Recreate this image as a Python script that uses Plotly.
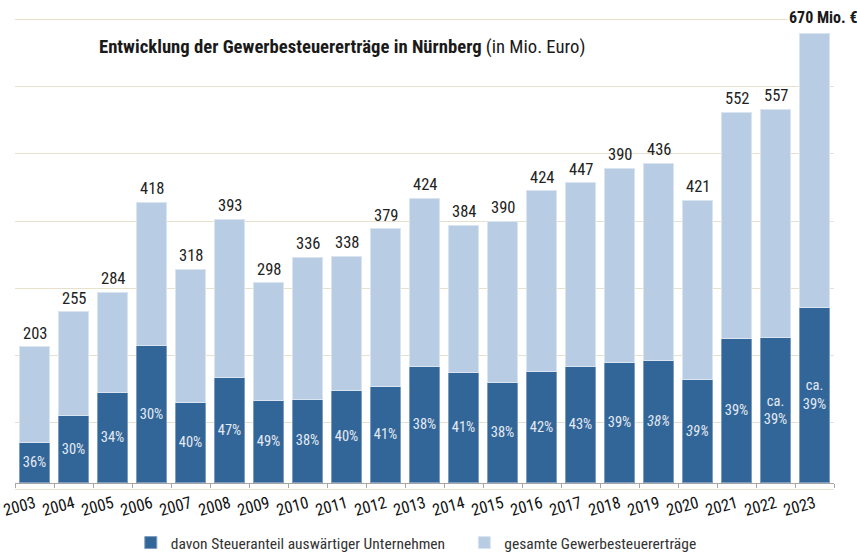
import plotly.graph_objects as go

years = [str(y) for y in range(2003, 2024)]
# bar heights (Mio. Euro)
totals = [203, 255, 284, 418, 318, 393, 298, 336, 338, 379, 424, 384, 390, 435, 447, 469, 476, 421, 552, 557, 670]
dark = [60, 101, 134, 205, 120, 157, 123, 125, 138, 143, 174, 164, 149, 166, 173, 180, 182, 154, 215, 216, 261]
value_labels = ["203", "255", "284", "418", "318", "393", "298", "336", "338", "379", "424",
                "384", "390", "424", "447", "390", "436", "421", "552", "557", "670 Mio. €"]
pct_labels = ["36%", "30%", "34%", "30%", "40%", "47%", "49%", "38%", "40%", "41%", "38%",
              "41%", "38%", "42%", "43%", "39%", "<i>38%</i>", "<i>39%</i>", "39%", "ca.<br>39%", "ca.<br>39%"]
series_names = ["davon Steueranteil auswärtiger Unternehmen", "gesamte Gewerbesteuererträge"]
light = [t - d for t, d in zip(totals, dark)]

FONT = "Liberation Sans Narrow, Arial Narrow, Roboto Condensed, Liberation Sans, sans-serif"
DARK = "#336698"
LIGHT = "#b8cce4"

ymin, ymax = -12, 700
mt, mb = 13, 63
plot_h = 554 - mt - mb

fig = go.Figure()
fig.add_trace(go.Bar(
    x=years, y=dark, name=series_names[0] + "&nbsp;&nbsp;&nbsp;&nbsp;",
    marker=dict(color=DARK, line=dict(color="#7d9dc0", width=1)),
    text=pct_labels, textposition="inside", insidetextanchor="middle",
    textangle=0, constraintext="none",
    textfont=dict(family=FONT, size=14.5, color="#e4ebf4"),
    hoverinfo="skip",
))
fig.add_trace(go.Bar(
    x=years, y=light, name=series_names[1],
    marker=dict(color=LIGHT, line=dict(color="#dbe5f1", width=1)),
    hoverinfo="skip",
))

last = len(years) - 1
for i, (tot, lab) in enumerate(zip(totals, value_labels)):
    if i == last:
        fig.add_annotation(x=i, xanchor="center", xshift=9,
                           y=(554 - mb - 17) / plot_h, yref="paper", yanchor="middle",
                           text="<b>" + lab + "</b>",
                           showarrow=False, bgcolor="white",
                           font=dict(family=FONT, size=16, color="#1a1a1a"))
    else:
        fig.add_annotation(x=i, y=tot, yanchor="bottom", yshift=2, text=lab,
                           showarrow=False,
                           font=dict(family=FONT, size=16.5, color="#222222"))

fig.add_annotation(x=(97 - 15) / 819, xref="paper", xanchor="left",
                   y=(554 - mb - 47) / plot_h, yref="paper", yanchor="middle",
                   text="<b>Entwicklung der Gewerbesteuererträge in Nürnberg</b> (in Mio. Euro)",
                   showarrow=False, font=dict(family=FONT, size=18.7, color="#1a1a1a"))

fig.update_layout(
    barmode="stack", bargap=0.21,
    width=857, height=554,
    margin=dict(l=15, r=23, t=mt, b=mb, autoexpand=False),
    paper_bgcolor="white", plot_bgcolor="white",
    showlegend=True,
    legend=dict(orientation="h", x=0.49, xanchor="center",
                y=(554 - mb - 543) / plot_h, yanchor="middle",
                font=dict(family=FONT, size=15.5, color="#333333"),
                itemwidth=30, traceorder="normal", itemclick=False),
    xaxis=dict(type="category", anchor="free", position=(0 - ymin) / (ymax - ymin),
               range=[-0.5, len(years) - 0.5], automargin=False,
               showline=True, linecolor="#a6a6a6", linewidth=1,
               ticks="outside", ticklen=4, tickcolor="#a6a6a6", tickson="boundaries",
               tickangle=-15, ticklabelstandoff=4,
               tickfont=dict(family=FONT, size=16.5, color="#111111"),
               showgrid=False, fixedrange=True),
    yaxis=dict(range=[ymin, ymax], tick0=-10, dtick=100, showticklabels=False,
               automargin=False,
               showgrid=True, gridcolor="#e6e0cc", gridwidth=1, zeroline=False,
               fixedrange=True),
)

fig.write_html("out.html", config={"displayModeBar": False},
               post_script="document.body.style.margin='0';document.body.style.padding='0';"
                           "document.body.style.overflow='hidden';")
